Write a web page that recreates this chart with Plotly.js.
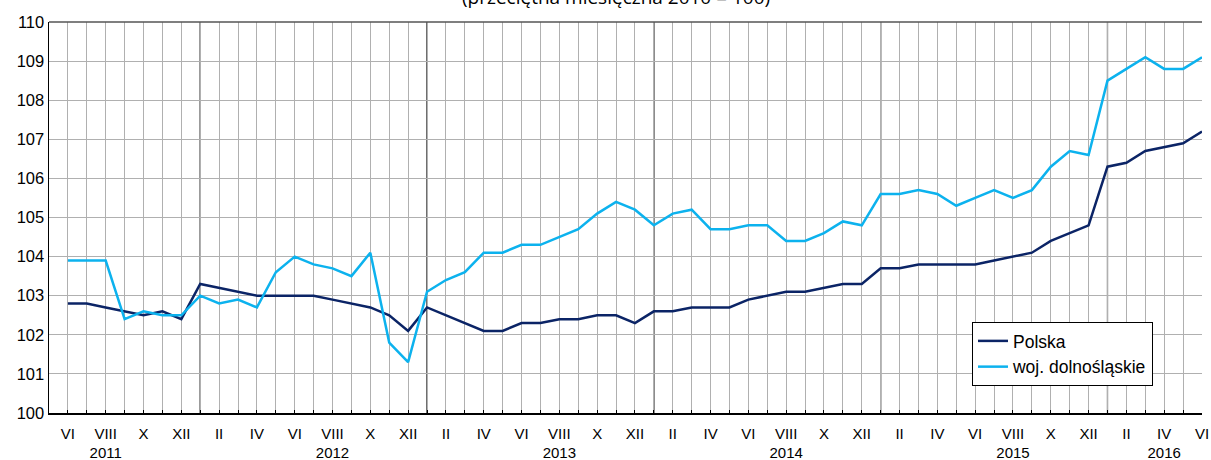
<!DOCTYPE html>
<html>
<head>
<meta charset="utf-8">
<script src="https://cdn.plot.ly/plotly-3.0.1.min.js"></script>
<style>html,body{margin:0;padding:0;background:#fff;}#chart{width:1211px;height:460px;}</style>
</head>
<body>
<div id="chart"></div>
<script>
// Months (roman) and years for each observation, VI 2011 – VI 2016
const monthNames = ["I","II","III","IV","V","VI","VII","VIII","IX","X","XI","XII"];
const startYear = 2011, startMonth = 6, count = 61;
const months = [];
const years = [];
for (let i = 0; i < count; i++) {
  const m = (startMonth - 1 + i) % 12;
  months.push(monthNames[m]);
  years.push(startYear + Math.floor((startMonth - 1 + i) / 12));
}

const polska = [
  102.8,102.8,102.7,102.6,102.5,102.6,102.4,
  103.3,103.2,103.1,103.0,103.0,103.0,103.0,102.9,102.8,102.7,102.5,102.1,
  102.7,102.5,102.3,102.1,102.1,102.3,102.3,102.4,102.4,102.5,102.5,102.3,
  102.6,102.6,102.7,102.7,102.7,102.9,103.0,103.1,103.1,103.2,103.3,103.3,
  103.7,103.7,103.8,103.8,103.8,103.8,103.9,104.0,104.1,104.4,104.6,104.8,
  106.3,106.4,106.7,106.8,106.9,107.2
];
const dolnoslaskie = [
  103.9,103.9,103.9,102.4,102.6,102.5,102.5,
  103.0,102.8,102.9,102.7,103.6,104.0,103.8,103.7,103.5,104.1,101.8,101.3,
  103.1,103.4,103.6,104.1,104.1,104.3,104.3,104.5,104.7,105.1,105.4,105.2,
  104.8,105.1,105.2,104.7,104.7,104.8,104.8,104.4,104.4,104.6,104.9,104.8,
  105.6,105.6,105.7,105.6,105.3,105.5,105.7,105.5,105.7,106.3,106.7,106.6,
  108.5,108.8,109.1,108.8,108.8,109.1
];
// year label placed under this month
const yearLabelMonth = {2011:"VIII",2012:"VIII",2013:"VIII",2014:"VIII",2015:"VIII",2016:"IV"};
const labeledMonths = ["II","IV","VI","VIII","X","XII"];

const idx = months.map((_, i) => i);
const tickvals = idx;
const ticktext = idx.map(i => {
  if (!labeledMonths.includes(months[i])) return "";
  let t = months[i];
  if (yearLabelMonth[years[i]] === months[i]) t += "<br>" + years[i];
  return t;
});

const shapes = [];
idx.forEach(i => {
  if (months[i] === "I") {
    shapes.push({type:"line", xref:"x", yref:"paper", x0:i, x1:i, y0:0, y1:1,
      line:{color:"#000", width:1.2}, layer:"between"});
  }
});
shapes.push({type:"line", xref:"paper", yref:"paper", x0:0, x1:1, y0:1, y1:1,
  line:{color:"#555", width:1.5}});

const traces = [
  {x: idx, y: polska, name: "Polska", type: "scatter", mode: "lines",
   line: {color: "#0b2466", width: 2.5}},
  {x: idx, y: dolnoslaskie, name: "woj. dolnośląskie", type: "scatter", mode: "lines",
   line: {color: "#0cb2ee", width: 2.5}}
];

const layout = {
  width: 1211, height: 460,
  margin: {l: 49, r: 9, t: 22, b: 47},
  paper_bgcolor: "#fff", plot_bgcolor: "#fff",
  font: {family: "Liberation Sans, Arial, sans-serif", color: "#000", size: 15},
  annotations: [{text: "(przeciętna miesięczna 2010 = 100)", xref: "paper", yref: "paper",
    x: 0.4915, y: 1.026, xanchor: "center", yanchor: "bottom", showarrow: false,
    font: {family: "Open Sans, sans-serif", size: 19, color: "#000"}}],
  showlegend: true,
  legend: {x: 0.8005, y: 0.2327, xanchor: "left", yanchor: "top", bgcolor: "#fff",
           bordercolor: "#000", borderwidth: 1, font: {size: 17.5}, tracegroupgap: 0},
  xaxis: {range: [-1, count - 1], tickmode: "array", tickvals: tickvals, ticktext: ticktext,
          showgrid: true, gridcolor: "#b0b0b0", gridwidth: 1, zeroline: false,
          showline: true, linecolor: "#000", linewidth: 1.5,
          ticks: "inside", ticklen: 3, tickcolor: "#000", tickfont: {size: 15},
          ticklabelstandoff: 6, fixedrange: true},
  yaxis: {range: [100, 110], dtick: 1, showgrid: true, gridcolor: "#b0b0b0", gridwidth: 1,
          zeroline: false, showline: true, linecolor: "#000", linewidth: 1.5,
          ticks: "", tickfont: {size: 16.5}, fixedrange: true},
  shapes: shapes
};

Plotly.newPlot("chart", traces, layout, {displayModeBar: false, staticPlot: true});
</script>
</body>
</html>
